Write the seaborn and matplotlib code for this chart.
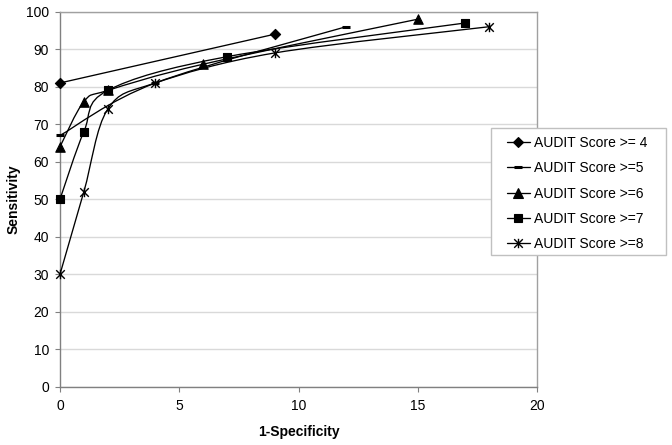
import numpy as np
import pandas as pd
import matplotlib
matplotlib.use("Agg")
import matplotlib.pyplot as plt
import seaborn as sns
from matplotlib.path import Path
from matplotlib.patches import PathPatch, Rectangle
from matplotlib.lines import Line2D

# ---- data ----
series_names = ["AUDIT Score >= 4", "AUDIT Score >=5", "AUDIT Score >=6",
                "AUDIT Score >=7", "AUDIT Score >=8"]
x_s4 = [0, 9]
y_s4 = [81, 94]
x_s5 = [0, 4, 12]
y_s5 = [67, 81, 96]
x_s6 = [0, 1, 2, 6, 15]
y_s6 = [64, 76, 79, 86, 98]
x_s7 = [0, 1, 2, 7, 17]
y_s7 = [50, 68, 79, 88, 97]
x_s8 = [0, 1, 2, 4, 9, 18]
y_s8 = [30, 52, 74, 81, 89, 96]
x_ticks = [0, 5, 10, 15, 20]
y_ticks = [0, 10, 20, 30, 40, 50, 60, 70, 80, 90, 100]

xs = [x_s4, x_s5, x_s6, x_s7, x_s8]
ys = [y_s4, y_s5, y_s6, y_s7, y_s8]
frames = [pd.DataFrame({"x": a, "y": b, "series": n}) for a, b, n in zip(xs, ys, series_names)]
df = pd.concat(frames, ignore_index=True)

# asterisk marker (X plus vertical bar)
star_path = Path([(-1, -1), (1, 1), (-1, 1), (1, -1), (0, -1.1), (0, 1.1)],
                 [Path.MOVETO, Path.LINETO, Path.MOVETO, Path.LINETO, Path.MOVETO, Path.LINETO])

styles = {
    "AUDIT Score >= 4": dict(marker="D", ms=5.2, mew=0.8, filled=True),
    "AUDIT Score >=5": dict(marker="_", ms=6.0, mew=2.2, filled=False),
    "AUDIT Score >=6": dict(marker="^", ms=6.8, mew=0.8, filled=True),
    "AUDIT Score >=7": dict(marker="s", ms=6.0, mew=0.8, filled=True),
    "AUDIT Score >=8": dict(marker=star_path, ms=6.8, mew=1.0, filled=False),
}

sns.set_theme(style="white")
plt.rcParams["font.family"] = ["Liberation Sans", "DejaVu Sans"]

fig = plt.figure(figsize=(6.72, 4.45), dpi=100)
ax = fig.add_axes([0.0893, 0.1310, 0.7098, 0.8427])


def smooth_path(px, py):
    """Excel-like smoothed line: cubic Bezier through the points."""
    p = np.column_stack([px, py]).astype(float)
    n = len(p)
    if n < 3:
        return Path(p, [Path.MOVETO] + [Path.LINETO] * (n - 1))
    ext = np.vstack([p[0], p, p[-1]])
    verts = [p[0]]
    codes = [Path.MOVETO]
    for i in range(n - 1):
        p0, p1, p2, p3 = ext[i], ext[i + 1], ext[i + 2], ext[i + 3]
        c1 = p1 + (p2 - p0) / 6.0
        c2 = p2 - (p3 - p1) / 6.0
        verts += [c1, c2, p2]
        codes += [Path.CURVE4] * 3
    return Path(np.array(verts), codes)


for name in series_names:
    sub = df[df["series"] == name]
    patch = PathPatch(smooth_path(sub["x"].values, sub["y"].values), facecolor="none",
                      edgecolor="black", lw=0.95, zorder=3, clip_on=False)
    ax.add_patch(patch)
    st = styles[name]
    size = st["ms"] ** 2
    sns.scatterplot(data=sub, x="x", y="y", marker=st["marker"], s=size, color="black",
                    edgecolor="black", linewidth=st["mew"], ax=ax, zorder=4, clip_on=False,
                    legend=False)

ax.set_xlim(0, 20)
ax.set_ylim(0, 100)
ax.set_xticks(x_ticks)
ax.set_yticks(y_ticks)
ax.set_xticklabels([str(v) for v in x_ticks])
ax.set_yticklabels([str(v) for v in y_ticks])
ax.yaxis.grid(True, color="#d9d9d9", lw=1.0)
ax.xaxis.grid(False)
ax.set_axisbelow(True)
for side in ["left", "bottom"]:
    ax.spines[side].set_color("#808080")
    ax.spines[side].set_linewidth(1.0)
for side in ["top", "right"]:
    ax.spines[side].set_color("#a0a0a0")
    ax.spines[side].set_linewidth(1.0)
ax.tick_params(axis="both", direction="out", length=3.5, width=0.8, color="#808080",
               labelsize=10, labelcolor="black")
ax.tick_params(axis="x", pad=5, bottom=True)
ax.tick_params(axis="y", pad=4.5, left=True)

ax.set_xlabel("1-Specificity", fontsize=10, fontweight="bold", color="black")
ax.set_ylabel("Sensitivity", fontsize=10, fontweight="bold", color="black")
ax.xaxis.set_label_coords(0.5, -0.102)
ax.yaxis.set_label_coords(-0.082, 0.5)

# legend frame (pixels: x 491-666, y 128-255 from top)
W, H = 672.0, 445.0
rect = Rectangle((491 / W, 1 - 255 / H), 175 / W, 127 / H, transform=fig.transFigure,
                 facecolor="white", edgecolor="#c0c0c0", lw=1.0, zorder=5)
fig.patches.append(rect)

handles = []
for name in series_names:
    st = styles[name]
    handles.append(Line2D([], [], color="black", lw=0.95, marker=st["marker"],
                          markersize=st["ms"], markeredgewidth=st["mew"],
                          markerfacecolor="black", markeredgecolor="black"))
leg = fig.legend(handles, series_names, loc="upper left",
                 bbox_to_anchor=(507 / W, 1 - 136 / H), bbox_transform=fig.transFigure,
                 frameon=False, borderpad=0, borderaxespad=0, fontsize=10,
                 handlelength=1.65, handletextpad=0.3, labelspacing=0.81)
leg.set_zorder(6)
for t in leg.get_texts():
    t.set_color("black")

fig.savefig("out.png", dpi=100, facecolor="white")
